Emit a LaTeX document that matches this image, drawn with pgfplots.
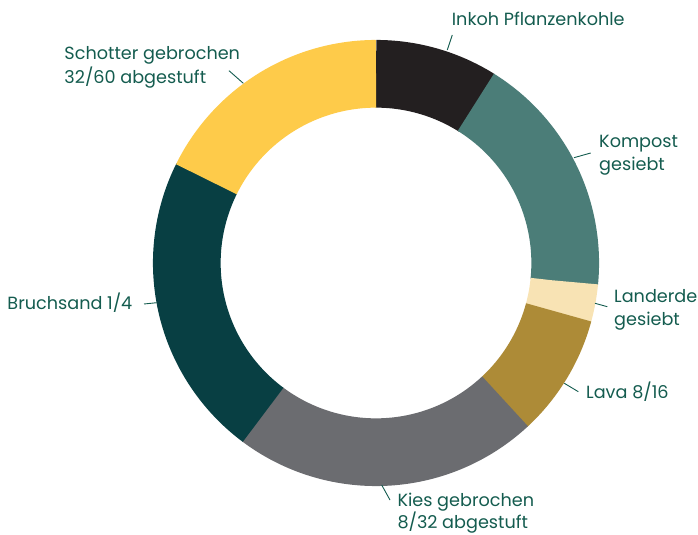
\documentclass[border=0pt]{standalone}
\usepackage{pgfplots}
\pgfplotsset{compat=1.18}
\usepackage{pgfplotstable}
\usepackage{fontspec}
\setmainfont{Poppins}
\definecolor{cInkoh}{HTML}{231F20}
\definecolor{cKompost}{HTML}{4B7D78}
\definecolor{cLanderde}{HTML}{F8E3B4}
\definecolor{cLava}{HTML}{AD8B37}
\definecolor{cKies}{HTML}{6B6C70}
\definecolor{cBruch}{HTML}{083F43}
\definecolor{cSchotter}{HTML}{FECB4A}
\definecolor{txt}{HTML}{145C4F}

\pgfplotstableread{
label value
Inkoh 10
Kompost 20
Landerde 3
Lava 10
Kies 25
Bruchsand 25
Schotter 20
}\data
\pgfplotstablecreatecol[create col/expr accum={\pgfmathaccuma + \thisrow{value}}{0}]{cum}\data
\pgfplotstablegetelem{6}{cum}\of\data
\pgfmathsetmacro\total{\pgfplotsretval}
\newcommand\getang[2]{\pgfplotstablegetelem{#1}{cum}\of\data\pgfmathsetmacro#2{(\pgfplotsretval/\total)*360}}
\getang{0}{\aA}
\getang{1}{\aB}
\getang{2}{\aC}
\getang{3}{\aD}
\getang{4}{\aE}
\getang{5}{\aF}
\def\cx{376}
\def\cy{272}
\def\rmid{189.2}

\begin{document}
\begin{tikzpicture}
\begin{axis}[
  width=698bp, height=535bp, scale only axis,
  xmin=0, xmax=698, ymin=0, ymax=535,
  hide axis, clip=false,
  samples=120,
  ring/.style={line width=67.7bp, line cap=butt, line join=round, no markers, smooth=false},
]
\addplot[ring, cInkoh, domain=0:{\aA+0.3}] ({\cx+\rmid*sin(x)},{\cy+\rmid*cos(x)});
\addplot[ring, cKompost, domain=\aA:{\aB+0.3}] ({\cx+\rmid*sin(x)},{\cy+\rmid*cos(x)});
\addplot[ring, cLanderde, domain=\aB:{\aC+0.3}] ({\cx+\rmid*sin(x)},{\cy+\rmid*cos(x)});
\addplot[ring, cLava, domain=\aC:{\aD+0.3}] ({\cx+\rmid*sin(x)},{\cy+\rmid*cos(x)});
\addplot[ring, cKies, domain=\aD:{\aE+0.3}] ({\cx+\rmid*sin(x)},{\cy+\rmid*cos(x)});
\addplot[ring, cBruch, domain=\aE:{\aF+0.3}] ({\cx+\rmid*sin(x)},{\cy+\rmid*cos(x)});
\addplot[ring, cSchotter, domain=\aF:360] ({\cx+\rmid*sin(x)},{\cy+\rmid*cos(x)});
% leader lines
\addplot[txt, line width=0.9bp, no markers] coordinates {(447.3,485) (452.3,500)};
\addplot[txt, line width=0.9bp, no markers] coordinates {(574,377.3) (590.7,382)};
\addplot[txt, line width=0.9bp, no markers] coordinates {(595,231.7) (607.3,228.3)};
\addplot[txt, line width=0.9bp, no markers] coordinates {(564.3,151.7) (578.3,143.3)};
\addplot[txt, line width=0.9bp, no markers] coordinates {(381.7,50) (390,35)};
\addplot[txt, line width=0.9bp, no markers] coordinates {(144,231) (156.7,232.3)};
\addplot[txt, line width=0.9bp, no markers] coordinates {(229,464.3) (243.3,451.7)};
% labels
\begin{scope}[every node/.style={anchor=base west, inner sep=0pt, text=txt, font=\fontsize{17.7}{20}\selectfont}]
\node at (axis cs:451.7,509) {Inkoh Pflanzenkohle};
\node at (axis cs:64.3,475) {Schotter gebrochen};
\node at (axis cs:64.3,451) {32/60 abgestuft};
\node at (axis cs:599,387.7) {Kompost};
\node at (axis cs:599,364.7) {gesiebt};
\node at (axis cs:614,232.3) {Landerde};
\node at (axis cs:614,209.3) {gesiebt};
\node at (axis cs:586,136.7) {Lava 8/16};
\node at (axis cs:7.3,225) {Bruchsand 1/4};
\node at (axis cs:397.3,28.5) {Kies gebrochen};
\node at (axis cs:397.3,6.2) {8/32 abgestuft};
\end{scope}
\end{axis}
\pgfresetboundingbox
\path (current axis.south west) rectangle (current axis.north east);
\end{tikzpicture}
\end{document}
